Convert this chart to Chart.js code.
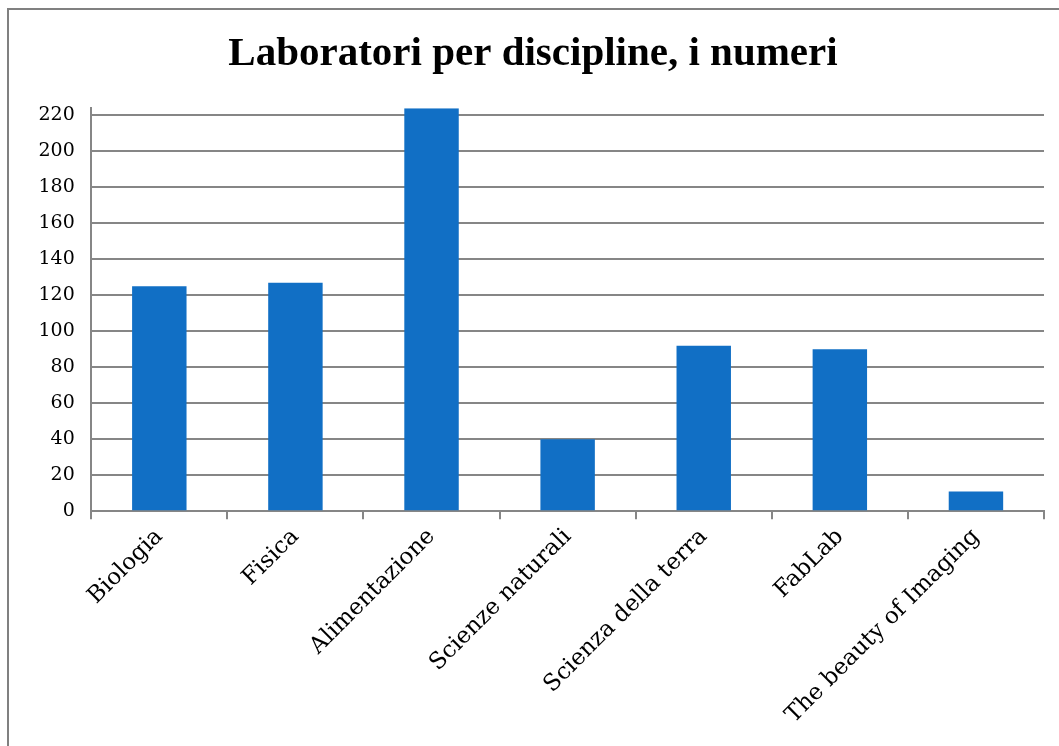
<!DOCTYPE html>
<html>
<head>
<meta charset="utf-8">
<title>Laboratori per discipline</title>
<script src="https://cdn.jsdelivr.net/npm/chart.js@4"></script>
<style>
    html, body { margin: 0; padding: 0; background: #fff; overflow: hidden; }
    #frame {
        position: absolute; left: 7px; top: 8px;
        width: 1100px; height: 800px;
        border: 2px solid #808080;
    }
    #wrap { position: absolute; left: 0; top: 0; width: 1059px; height: 746px; }
</style>
</head>
<body>
<div id="frame"></div>
<div id="wrap"><canvas id="labChart"></canvas></div>
<script>
// Data
const categories = ['Biologia', 'Fisica', 'Alimentazione', 'Scienze naturali', 'Scienza della terra', 'FabLab', 'The beauty of Imaging'];
const labCounts = [125, 127, 224, 40, 92, 90, 11];
const yTicks = [0, 20, 40, 60, 80, 100, 120, 140, 160, 180, 200, 220];

const gridGray = '#868686';

const ctx = document.getElementById('labChart').getContext('2d');
new Chart(ctx, {
    type: 'bar',
    data: {
        labels: categories,
        datasets: [{
            label: 'Laboratori',
            data: labCounts,
            backgroundColor: '#116fc5',
            borderWidth: 0,
            barPercentage: 0.4,
            categoryPercentage: 1,
        }],
    },
    options: {
        responsive: true,
        maintainAspectRatio: false,
        animation: false,
        layout: { padding: { left: 22, right: 15, top: 16, bottom: 13 } },
        plugins: {
            legend: { display: false },
            tooltip: { enabled: false },
            title: {
                display: true,
                text: 'Laboratori per discipline, i numeri',
                color: '#000',
                font: { family: 'Liberation Serif', size: 41, weight: 'bold' },
                padding: { top: 14, bottom: 29 },
            },
        },
        scales: {
            x: {
                grid: {
                    offset: true,
                    drawOnChartArea: false,
                    drawTicks: true,
                    tickLength: 8,
                    color: gridGray,
                    lineWidth: 2,
                },
                border: { color: gridGray, width: 2 },
                ticks: {
                    color: '#000',
                    minRotation: 45,
                    maxRotation: 45,
                    padding: 4,
                    font: { family: 'DejaVu Serif', size: 23 },
                },
            },
            y: {
                min: 0,
                max: 224,
                afterBuildTicks: axis => {
                    axis.ticks = yTicks.map(v => ({ value: v }));
                },
                grid: { color: gridGray, lineWidth: 2, drawTicks: false },
                border: { color: gridGray, width: 2 },
                ticks: {
                    color: '#000',
                    padding: 16.5,
                    font: { family: 'DejaVu Serif', size: 19 },
                },
            },
        },
    },
});
</script>
</body>
</html>
